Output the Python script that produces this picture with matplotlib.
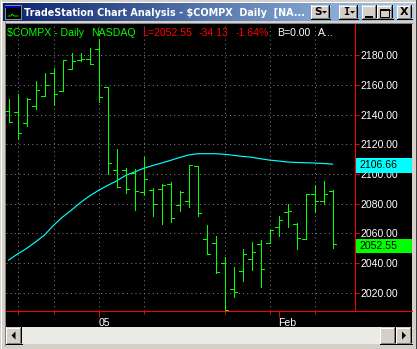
import numpy as np
import pandas as pd
import matplotlib
matplotlib.use("Agg")
import matplotlib.pyplot as plt
from matplotlib.patches import Rectangle, Polygon
from matplotlib.transforms import blended_transform_factory

# Daily $COMPX bars
dates = ["2004-12-17", "2004-12-20", "2004-12-21", "2004-12-22", "2004-12-23",
         "2004-12-27", "2004-12-28", "2004-12-29", "2004-12-30", "2004-12-31",
         "2005-01-03", "2005-01-04", "2005-01-05", "2005-01-06", "2005-01-07",
         "2005-01-10", "2005-01-11", "2005-01-12", "2005-01-13", "2005-01-14",
         "2005-01-18", "2005-01-19", "2005-01-20", "2005-01-21", "2005-01-24",
         "2005-01-25", "2005-01-26", "2005-01-27", "2005-01-28", "2005-01-31",
         "2005-02-01", "2005-02-02", "2005-02-03", "2005-02-04", "2005-02-07",
         "2005-02-08", "2005-02-09"]
opens = [2142.5, 2142.0, 2134.2, 2145.6, 2152.4, 2168.1, 2156.1, 2170.8, 2176.8, 2177.7,
         2184.0, 2158.4, 2102.5, 2103.0, 2100.5, 2087.7, 2089.2, 2089.7, 2093.1, 2078.9,
         2081.6, 2105.4, 2056.0, 2053.3, 2039.8, 2022.3, 2034.4, 2042.7, 2052.6, 2053.3,
         2064.1, 2074.6, 2066.3, 2056.0, 2086.7, 2081.6, 2088.7]
highs = [2150.5, 2153.9, 2151.0, 2162.7, 2168.1, 2171.2, 2176.6, 2181.3, 2181.3, 2184.7,
         2190.8, 2158.8, 2116.8, 2104.0, 2103.4, 2111.7, 2090.4, 2093.3, 2094.4, 2088.3,
         2106.1, 2105.4, 2065.6, 2058.2, 2044.1, 2037.3, 2049.4, 2054.2, 2055.5, 2062.5,
         2071.7, 2079.8, 2066.8, 2086.7, 2092.8, 2095.3, 2089.0]
lows = [2134.8, 2123.8, 2132.3, 2143.8, 2152.4, 2146.7, 2155.7, 2170.8, 2176.0, 2174.3,
        2148.3, 2100.0, 2091.0, 2087.4, 2076.0, 2086.0, 2071.9, 2066.5, 2067.4, 2075.3,
        2077.6, 2071.9, 2045.9, 2033.1, 2008.5, 2017.3, 2028.1, 2035.5, 2024.0, 2053.3,
        2058.2, 2064.1, 2049.2, 2056.0, 2074.6, 2080.0, 2050.3]
closes = [2134.8, 2127.4, 2150.5, 2156.4, 2160.0, 2153.9, 2176.6, 2176.0, 2177.3, 2174.3,
          2151.7, 2107.2, 2091.0, 2089.7, 2088.3, 2096.4, 2079.6, 2092.6, 2070.1, 2087.7,
          2105.9, 2073.5, 2045.9, 2034.0, 2008.5, 2020.3, 2045.9, 2047.2, 2036.0, 2062.5,
          2068.8, 2075.0, 2057.1, 2086.7, 2081.6, 2086.68, 2052.55]
ma_values = [2042.0, 2046.1, 2049.8, 2054.2, 2058.9, 2065.4, 2071.0, 2075.7, 2080.8, 2085.2,
             2089.0, 2092.3, 2095.3, 2099.0, 2101.4, 2103.8, 2105.7, 2107.4, 2109.2, 2111.1,
             2112.8, 2113.7, 2113.7, 2113.7, 2113.3, 2112.6, 2111.9, 2111.3, 2110.3, 2109.4,
             2108.8, 2108.1, 2107.8, 2107.6, 2107.4, 2107.1, 2106.66]
price_ticks = [2020, 2040, 2060, 2080, 2100, 2120, 2140, 2160, 2180]

W, H = 417, 349
GREEN = "#00FF00"
CYAN = "#00FFFF"
RED = "#FF0000"
GRID = "#808080"
FACE = "#D4D0C8"
DARK = "#808080"
FONT = "Liberation Sans"
FS = 7.6
PX = 0.72  # one pixel line, in points

dts = pd.to_datetime(dates)
x = np.arange(len(dts))
mondays = [i for i, d in enumerate(dts) if d.weekday() == 0]
major_idx, major_lbl = [], []
for i in range(1, len(dts)):
    if dts[i].year != dts[i - 1].year:
        major_idx.append(i)
        major_lbl.append(dts[i].strftime("%y"))
    elif dts[i].month != dts[i - 1].month:
        major_idx.append(i)
        major_lbl.append(dts[i].strftime("%b"))

chg = closes[-1] - closes[-2]
pct = chg / closes[-2] * 100

fig = plt.figure(figsize=(W / 100, H / 100), dpi=100)
fig.patch.set_facecolor(FACE)

# window chrome in pixel coordinates
bg = fig.add_axes([0, 0, 1, 1], zorder=0)
bg.set_xlim(0, W)
bg.set_ylim(H, 0)
bg.axis("off")


def hl(ax_, x0, x1, y, c):
    ax_.plot([x0, x1], [y + 0.5, y + 0.5], color=c, lw=PX, antialiased=False, solid_capstyle="butt")


def vl(ax_, x0, y0, y1, c):
    ax_.plot([x0 + 0.5, x0 + 0.5], [y0, y1], color=c, lw=PX, antialiased=False, solid_capstyle="butt")


def button(x0, y0, w, h):
    bg.add_patch(Rectangle((x0, y0), w, h, fc=FACE, ec="none"))
    hl(bg, x0, x0 + w, y0, "white")
    vl(bg, x0, y0, y0 + h, "white")
    hl(bg, x0, x0 + w, y0 + h - 1, "black")
    vl(bg, x0 + w - 1, y0, y0 + h, "black")
    hl(bg, x0 + 1, x0 + w - 1, y0 + h - 2, DARK)
    vl(bg, x0 + w - 2, y0 + 1, y0 + h - 1, DARK)


# outer frame
vl(bg, 1, 1, H - 1, "white")
hl(bg, 1, W - 1, 1, "white")
vl(bg, W - 1, 0, H, "#404040")
hl(bg, 0, W, H - 1, "#404040")

# title bar gradient
grad = np.linspace(0, 1, 256)[None, :, None]
c0 = np.array([10, 36, 106]) / 255
c1 = np.array([166, 202, 240]) / 255
bg.imshow(c0 + (c1 - c0) * grad, extent=[3, 414, 21, 3], aspect="auto", zorder=1)
bg.add_patch(Rectangle((5, 5), 16, 14, fc="black", ec="#C0C0C0", lw=0.5, zorder=2))
bg.add_patch(Rectangle((5.5, 5.5), 15, 2, fc="#0000C0", ec="none", zorder=3))
bg.plot([8, 11, 12, 14, 18], [16, 16, 14, 16, 16], color=GREEN, lw=0.6, zorder=3)
bg.text(24, 12.5, "TradeStation Chart Analysis - $COMPX  Daily  [NA...", color="white",
        fontsize=6.9, fontweight="bold", family="DejaVu Sans", va="center", ha="left", zorder=3)
for bx, bw in [(311, 19), (339, 19), (362, 15), (377, 16), (397, 15)]:
    button(bx, 5, bw, 14)
bg.text(318, 12, "S", fontsize=7.5, fontweight="bold", family="DejaVu Sans", ha="center", va="center")
bg.text(346, 12, "I", fontsize=7.5, fontweight="bold", family="DejaVu Sans Mono", ha="center", va="center")
for tx in (324.5, 352.5):
    bg.add_patch(Polygon([[tx - 2.5, 11], [tx + 2.5, 11], [tx, 13.5]], fc="black", ec="none", zorder=4))
hl(bg, 365, 372, 15, "black")
hl(bg, 365, 372, 16, "black")
bg.add_patch(Rectangle((380.5, 8.5), 9, 8, fc="none", ec="black", lw=PX, zorder=4))
hl(bg, 380, 390, 9, "black")
bg.text(404.5, 12, "X", fontsize=8, fontweight="bold", family="DejaVu Sans", ha="center", va="center")

# client area
vl(bg, 5, 22, 345, DARK)
hl(bg, 5, 412, 22, DARK)
bg.add_patch(Rectangle((6, 23.5), 406, 303.5, fc="black", ec="none"))

# scrollbar
bg.add_patch(Rectangle((6, 327), 406, 17, fc="#ECEAE4", ec="none", hatch="....", lw=0))
button(6, 327, 16, 17)
button(380, 327, 16, 17)
button(396, 327, 16, 17)
bg.add_patch(Polygon([[11.5, 335.5], [15.5, 331.5], [15.5, 339.5]], fc="black", ec="none", zorder=4))
bg.add_patch(Polygon([[406, 335.5], [402, 331.5], [402, 339.5]], fc="black", ec="none", zorder=4))

# price chart; bar centres fall on pixel centres (9 px per bar)
XMIN, XMAX = (6 - 8.5) / 9, (355 - 8.5) / 9
YMIN, YMAX = 2007.7, 2201.1
ax = fig.add_axes([6 / W, 1 - 311 / H, 349 / W, 287 / H], zorder=1)
ax.set_facecolor("black")
ax.set_xlim(XMIN, XMAX)
ax.set_ylim(YMIN, YMAX)

dotted = (0, (1, 3.3))
ax.hlines(price_ticks, XMIN, XMAX, colors=GRID, linestyles=dotted, lw=PX)
ax.vlines(mondays, YMIN, YMAX, colors=GRID, linestyles=dotted, lw=PX)

ax.plot(x, ma_values, color=CYAN, lw=0.85, zorder=3)
ax.vlines(x, lows, highs, colors=GREEN, lw=PX, antialiased=False, zorder=4)
ax.hlines(opens, x - 0.36, x, colors=GREEN, lw=PX, antialiased=False, zorder=4)
ax.hlines(closes, x, x + 0.36, colors=GREEN, lw=PX, antialiased=False, zorder=4)

for side in ("left", "top"):
    ax.spines[side].set_visible(False)
for side in ("right", "bottom"):
    ax.spines[side].set_color(RED)
    ax.spines[side].set_linewidth(PX)

ax.yaxis.tick_right()
ax.set_yticks(price_ticks)
ax.set_yticklabels([f"{p:.2f}" for p in price_ticks], family=FONT)
ax.tick_params(axis="y", length=3, width=PX, color=RED, labelcolor="white",
               labelsize=FS, pad=0.8)
ax.set_xticks(major_idx)
ax.set_xticklabels(major_lbl, family=FONT, ha="left")
ax.set_xticks(mondays, minor=True)
ax.tick_params(axis="x", which="major", length=4.4, width=PX, color=RED,
               labelcolor="white", labelsize=FS, pad=0.3)
ax.tick_params(axis="x", which="minor", length=2.2, width=PX, color=RED)

# last-value tags on the price scale
trans = blended_transform_factory(ax.transAxes, ax.transData)
for val, col in [(ma_values[-1], CYAN), (closes[-1], GREEN)]:
    ax.add_patch(Rectangle((1.002, val - 5.75), 0.162, 9.7, transform=trans, fc=col,
                           ec="none", clip_on=False, zorder=6))
    ax.text(1.0143, val - 0.9, f"{val:.2f}", transform=trans, color="black", family=FONT,
            fontsize=FS, va="center", ha="left", clip_on=False, zorder=7)

# overlay: status line and axis extension
ov = fig.add_axes([0, 0, 1, 1], zorder=2)
ov.set_xlim(0, W)
ov.set_ylim(H, 0)
ov.axis("off")
ov.patch.set_alpha(0)
hl(ov, 355, 412, 310.5, RED)
header = [(6.7, "$COMPX - Daily", GREEN), (91, "NASDAQ", GREEN),
          (141.7, f"L={closes[-1]:.2f}", RED), (199, f"{chg:.2f}", RED),
          (235.7, f"{pct:.2f}%", RED), (276.7, "B=0.00", "white"), (318.3, "A...", "white")]
for hx, txt, col in header:
    ov.text(hx, 33.5, txt, color=col, family=FONT, fontsize=FS, va="center", ha="left")

fig.savefig("out.png", dpi=100, facecolor=fig.get_facecolor())
